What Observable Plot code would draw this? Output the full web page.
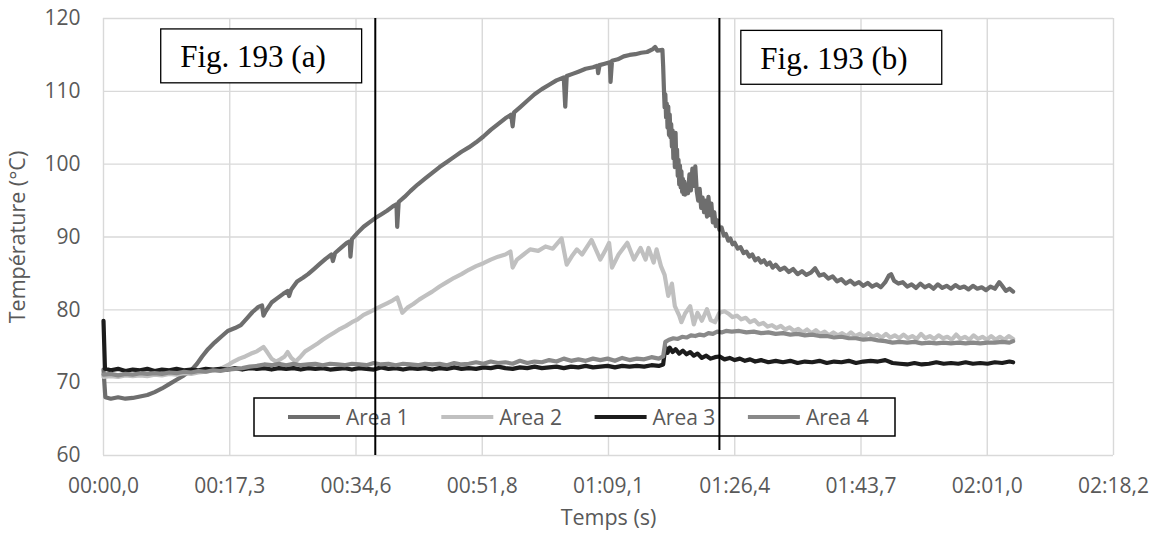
<!DOCTYPE html>
<html>
<head>
<meta charset="utf-8">
<script src="https://cdn.jsdelivr.net/npm/d3@7"></script>
<script src="https://cdn.jsdelivr.net/npm/@observablehq/plot@0.6"></script>
<style>
  html, body { margin: 0; padding: 0; background: white; }
</style>
</head>
<body>
<div id="chart"></div>
<script>
// ---- Data ----
const seriesNames = ["Area 1", "Area 2", "Area 3", "Area 4"];

const xTicks = [0, 17.28, 34.56, 51.84, 69.12, 86.4, 103.68, 120.96, 138.24];
const xTickLabels = ["00:00,0", "00:17,3", "00:34,6", "00:51,8", "01:09,1", "01:26,4", "01:43,7", "02:01,0", "02:18,2"];
const yTicks = [60, 70, 80, 90, 100, 110, 120];

const area1 = [[0,71.8],[0.25,68.0],[1,67.8],[2,68.0],[3,67.8],[4,67.9],[5,68.1],[6,68.3],[7,68.7],[8,69.2],[9,69.8],[10,70.4],[11,71.0],[12,71.7],[12.8,72.6],[13.5,73.6],[14.3,74.6],[15.2,75.5],[16.1,76.3],[17.0,77.1],[18.0,77.5],[18.8,77.9],[19.6,78.8],[20.4,79.7],[21.2,80.4],[21.7,80.6],[21.9,79.2],[22.2,79.8],[23.0,81.0],[23.8,81.6],[24.6,82.2],[25.2,82.6],[25.4,81.9],[25.7,82.8],[26.5,83.9],[27.3,84.4],[28.0,84.9],[28.8,85.6],[29.6,86.3],[30.4,87.0],[31.2,87.6],[31.4,86.7],[31.7,87.8],[32.5,88.5],[33.3,89.2],[33.7,89.4],[33.8,87.3],[34.0,89.7],[34.8,90.6],[35.6,91.4],[36.4,92.0],[37.2,92.6],[38.0,93.1],[38.8,93.6],[39.6,94.2],[40.1,94.5],[40.2,91.4],[40.4,94.8],[41.2,95.5],[42.0,96.3],[43.0,97.2],[44.0,98.0],[45.0,98.8],[46.0,99.6],[47.0,100.3],[48.0,101.0],[49.0,101.7],[50.0,102.3],[51.0,103.0],[52.0,103.8],[53.0,104.7],[54.0,105.5],[55.0,106.3],[55.8,106.8],[56.0,105.2],[56.2,107.1],[57.0,107.8],[58.0,108.7],[59.0,109.6],[60.0,110.3],[61.0,110.9],[62.0,111.5],[63.0,111.9],[63.2,107.9],[63.4,112.1],[64.2,112.4],[65.0,112.7],[66.0,113.1],[67.0,113.3],[67.6,113.5],[67.7,112.5],[67.9,113.6],[68.6,113.8],[69.3,114.0],[69.4,111.3],[69.6,114.2],[70.4,114.4],[71.2,114.8],[72.0,115.0],[72.8,115.1],[73.6,115.3],[74.4,115.4],[75.2,115.8],[75.5,116.1],[75.8,115.6],[76.5,115.7],[76.6,113.5],[76.7,110.5],[76.8,107.8],[76.9,109.6],[77.0,106.4],[77.1,108.3],[77.2,105.0],[77.3,107.9],[77.4,104.0],[77.5,106.8],[77.6,103.7],[77.7,105.5],[77.8,102.4],[77.9,104.6],[78.0,100.8],[78.1,103.9],[78.2,99.6],[78.3,104.3],[78.4,100.2],[78.5,102.0],[78.6,98.4],[78.7,100.6],[78.8,97.2],[78.9,99.8],[79.0,96.8],[79.1,99.0],[79.2,96.2],[79.3,98.0],[79.4,95.9],[79.5,97.6],[79.6,95.8],[79.8,97.2],[80.0,96.0],[80.2,98.6],[80.4,96.4],[80.6,99.4],[80.8,97.0],[81.0,99.7],[81.2,96.3],[81.4,95.0],[81.6,96.6],[81.8,94.0],[82.0,95.4],[82.2,93.4],[82.4,95.0],[82.6,92.8],[82.8,95.5],[83.0,93.0],[83.2,94.6],[83.4,92.0],[83.6,93.4],[83.8,91.5],[84.0,92.3],[84.3,91.0],[84.6,91.3],[84.9,90.2],[85.2,90.4],[85.5,89.5],[85.8,89.8],[86.1,89.0],[86.4,89.2],[86.8,88.4],[87.2,88.6],[87.6,87.8],[88.0,88.0],[88.4,87.3],[88.8,87.6],[89.2,86.8],[89.6,87.1],[90.0,86.5],[90.4,86.8],[90.8,86.2],[91.2,86.5],[91.6,85.8],[92.0,86.2],[92.6,85.5],[93.2,85.8],[93.8,85.2],[94.4,85.6],[95.0,84.9],[95.6,85.3],[96.2,84.8],[96.8,85.1],[97.4,85.7],[98.0,84.7],[98.6,84.9],[99.2,84.3],[99.8,84.6],[100.4,83.9],[101.0,84.2],[101.6,83.6],[102.2,84.0],[102.8,83.5],[103.4,83.8],[104.0,83.3],[104.6,83.7],[105.2,83.2],[105.8,83.5],[106.4,83.1],[107.0,83.8],[107.5,84.7],[107.8,84.9],[108.2,84.0],[108.8,83.6],[109.4,83.8],[110.0,83.2],[110.6,83.5],[111.2,83.0],[111.8,83.6],[112.4,83.1],[113.0,83.4],[113.6,82.9],[114.2,83.5],[114.8,83.0],[115.4,83.3],[116.0,82.9],[116.6,83.4],[117.2,83.0],[117.8,83.2],[118.4,82.8],[119.0,83.3],[119.6,82.9],[120.2,83.1],[120.8,82.7],[121.4,83.2],[122.0,82.9],[122.6,83.8],[123.0,83.3],[123.5,82.6],[124.0,82.9],[124.5,82.5]];

const area2 = [[0,70.8],[1,70.9],[2,70.8],[3,71.0],[4,70.9],[5,71.0],[6,70.9],[7,71.1],[8,71.0],[9,71.2],[10,71.1],[11,71.3],[12,71.2],[13,71.4],[14,71.5],[15,71.7],[16,71.9],[17,72.4],[17.8,72.9],[18.6,73.3],[19.4,73.6],[20.2,74.0],[21,74.3],[21.9,74.9],[22.4,74.2],[23.0,73.3],[23.6,72.9],[24.2,73.2],[24.8,73.6],[25.2,74.2],[25.7,73.4],[26.3,72.9],[27.0,73.6],[27.6,74.3],[28.4,74.8],[29.2,75.3],[30.0,75.9],[30.8,76.4],[31.6,76.9],[32.4,77.4],[33.2,77.8],[34.0,78.3],[34.8,78.7],[35.6,79.3],[36.4,79.7],[37.2,80.1],[38.0,80.5],[38.8,80.9],[39.6,81.3],[40.2,81.7],[40.9,79.6],[41.6,80.3],[42.4,80.8],[43.2,81.4],[44.0,81.9],[45.0,82.5],[46.0,83.2],[47.0,83.8],[48.0,84.4],[49.0,84.9],[50.0,85.5],[51.0,86.0],[52.0,86.4],[53.0,86.9],[54.0,87.3],[55.0,87.6],[55.7,88.0],[56.0,85.8],[56.6,86.9],[57.5,87.6],[58.4,88.3],[59.5,88.1],[60.5,88.7],[61.5,88.4],[62.7,89.8],[63.4,86.2],[64.2,87.5],[64.8,88.3],[65.5,87.6],[66.8,89.6],[68.0,86.9],[68.6,88.0],[69.2,89.2],[69.6,85.8],[70.5,87.6],[71.7,89.2],[72.6,86.9],[73.5,88.5],[74.2,86.9],[74.6,88.5],[75.3,86.5],[75.7,88.3],[76.3,86.0],[76.8,84.8],[77.3,81.9],[77.8,83.6],[78.2,80.5],[78.8,79.2],[79.1,78.3],[79.6,79.5],[80.3,80.5],[80.8,78.0],[81.3,79.6],[81.9,78.5],[82.6,80.1],[83.1,78.6],[83.7,78.3],[84.3,79.6],[85.0,79.8],[85.5,79.5],[86.1,79.0],[86.7,79.2],[87.3,78.7],[87.9,78.9],[88.5,78.3],[89.1,78.6],[89.7,78.0],[90.3,78.2],[90.9,77.7],[91.5,77.9],[92.1,77.5],[92.7,77.8],[93.3,77.3],[93.9,77.6],[94.5,77.1],[95.1,77.4],[95.7,76.9],[96.3,77.3],[96.9,76.8],[97.5,77.2],[98.1,76.7],[98.7,77.0],[99.3,76.5],[99.9,76.9],[100.5,76.5],[101.1,76.8],[101.7,76.4],[102.3,76.9],[102.9,76.4],[103.5,76.7],[104.1,76.3],[104.7,76.8],[105.3,76.3],[105.9,76.6],[106.5,76.2],[107.1,76.7],[107.7,76.2],[108.3,76.5],[108.9,76.1],[109.5,76.6],[110.1,76.1],[110.7,76.4],[111.3,76.0],[111.9,76.7],[112.5,76.1],[113.1,76.4],[113.7,76.0],[114.3,76.5],[114.9,76.1],[115.5,76.3],[116.1,75.9],[116.7,76.6],[117.3,76.0],[117.9,76.3],[118.5,75.9],[119.1,76.5],[119.7,76.0],[120.3,76.3],[120.9,75.9],[121.5,76.4],[122.1,75.9],[122.7,76.3],[123.3,75.9],[123.9,76.4],[124.5,76.0]];

const area3 = [[0,78.5],[0.2,71.9],[1,71.7],[2,71.9],[3,71.6],[4,71.8],[5,71.7],[6,71.9],[7,71.6],[8,71.8],[9,71.7],[10,71.9],[11,71.7],[12,71.8],[13,71.7],[14,71.9],[15,71.8],[16,71.9],[17,71.8],[18,72.0],[19,71.8],[20,72.0],[21,71.9],[22,72.0],[23,71.8],[24,72.0],[25,71.9],[26,72.0],[27,71.8],[28,72.0],[29,71.9],[30,72.0],[31,71.8],[32,71.9],[33,72.0],[34,71.8],[35,72.0],[36,71.9],[37,71.8],[38,72.1],[39,71.9],[40,72.0],[41,71.8],[42,72.0],[43,71.9],[44,72.0],[45,71.8],[46,72.0],[47,71.9],[48,72.1],[49,71.9],[50,72.0],[51,71.9],[52,72.1],[53,72.0],[54,72.2],[55,72.0],[56,71.9],[57,72.1],[58,72.0],[59,72.2],[60,72.0],[61,72.1],[62,72.2],[63,72.0],[64,72.2],[65,72.1],[66,72.3],[67,72.1],[68,72.2],[69,72.3],[70,72.1],[71,72.3],[72,72.2],[73,72.3],[74,72.2],[75,72.4],[76,72.3],[76.6,72.5],[76.9,74.9],[77.2,74.1],[77.5,74.8],[77.9,74.2],[78.3,74.6],[78.8,74.0],[79.3,74.4],[79.8,73.9],[80.3,74.2],[80.8,73.7],[81.3,74.0],[81.9,73.4],[82.5,73.7],[83.1,73.3],[83.7,73.5],[84.3,73.6],[85.0,73.2],[85.7,73.4],[86.4,73.1],[87.1,73.3],[87.8,73.0],[88.5,73.2],[89.2,72.9],[90,73.1],[91,72.8],[92,73.0],[93,72.8],[94,73.0],[95,72.7],[96,72.9],[97,72.8],[98,73.0],[99,72.7],[100,72.9],[101,72.8],[102,73.0],[103,72.7],[104,72.9],[105,73.0],[106,72.9],[107,73.1],[108,72.7],[109,72.6],[110,72.5],[111,72.7],[112,72.5],[113,72.6],[114,72.8],[115,72.6],[116,72.7],[117,72.6],[118,72.8],[119,72.6],[120,72.7],[121,72.6],[122,72.8],[123,72.7],[124,72.9],[124.5,72.8]];

const area4 = [[0,71.1],[1,71.2],[2,71.0],[3,71.2],[4,71.1],[5,71.3],[6,71.2],[7,71.3],[8,71.2],[9,71.4],[10,71.3],[11,71.5],[12,71.4],[13,71.6],[14,71.5],[15,71.7],[16,71.6],[17,71.8],[18,71.9],[19,72.0],[20,72.2],[21,72.3],[22,72.5],[23,72.4],[24,72.6],[25,72.4],[26,72.6],[27,72.4],[28,72.5],[29,72.6],[30,72.4],[31,72.6],[32,72.5],[33,72.4],[34,72.6],[35,72.5],[36,72.4],[37,72.7],[38,72.5],[39,72.6],[40,72.4],[41,72.6],[42,72.5],[43,72.4],[44,72.6],[45,72.5],[46,72.6],[47,72.4],[48,72.7],[49,72.5],[50,72.6],[51,72.8],[52,72.6],[53,72.9],[54,72.7],[55,72.8],[56,72.6],[57,73.0],[58,72.7],[59,72.9],[60,72.8],[61,73.1],[62,72.9],[63,73.3],[64,73.0],[65,73.2],[66,73.0],[67,73.3],[68,73.1],[69,73.3],[70,73.0],[71,73.4],[72,73.1],[73,73.3],[74,73.2],[75,73.5],[76,73.3],[76.6,73.6],[76.9,75.6],[77.4,75.9],[78,76.1],[78.6,76.0],[79.2,76.3],[79.8,76.2],[80.4,76.5],[81,76.4],[81.6,76.6],[82.2,76.5],[82.8,76.8],[83.4,76.7],[84,77.0],[84.6,76.9],[85.2,77.1],[86,77.0],[87,77.1],[88,76.9],[89,77.0],[90,76.8],[91,76.9],[92,76.7],[93,76.8],[94,76.6],[95,76.7],[96,76.5],[97,76.6],[98,76.4],[99,76.4],[100,76.2],[101,76.3],[102,76.1],[103,76.1],[104,75.9],[105,76.0],[106,75.8],[107,75.7],[108,75.5],[109,75.6],[110,75.5],[111,75.6],[112,75.4],[113,75.5],[114,75.4],[115,75.5],[116,75.4],[117,75.5],[118,75.4],[119,75.5],[120,75.4],[121,75.5],[122,75.5],[123,75.6],[124,75.5],[124.5,75.7]];

const seriesData = [area1, area2, area3, area4];

// Annotation boxes (data units) and vertical markers
const figLabels = ["Fig. 193 (a)", "Fig. 193 (b)"];
const figT1 = [7.9, 87.3];
const figT2 = [35.4, 114.8];
const figV1 = [118.5, 118.3];
const figV2 = [111.1, 110.9];
const markerTimes = [37.2, 84.3];
const markerBottoms = [60, 60.7];

// ---- Styles ----
const seriesColors = ["#6e6e6e", "#c0c0c0", "#1c1c1c", "#898989"];
const textColor = "#595959";
const gridColor = "#d9d9d9";
const uiFont = "'Open Sans', Lato, sans-serif";

// ---- Build tables ----
const figNotes = figLabels.map((label, i) => ({label, t1: figT1[i], t2: figT2[i], v1: figV1[i], v2: figV2[i], vm: (figV1[i] + figV2[i]) / 2}));
const markers = markerTimes.map((t, i) => ({t, bottom: markerBottoms[i]}));

const legendMark = (index, scales, values, dims) => {
  const g = d3.create("svg:g");
  const x0 = dims.marginLeft + 151;
  const y0 = dims.height - dims.marginBottom - 57;
  const w = 641, h = 38;
  g.append("rect").attr("x", x0).attr("y", y0).attr("width", w).attr("height", h)
    .attr("fill", "white").attr("stroke", "black").attr("stroke-width", 1.5);
  seriesNames.forEach((name, i) => {
    const sx = x0 + 34 + i * 153.3;
    const cy = y0 + h / 2;
    g.append("line").attr("x1", sx).attr("x2", sx + 52).attr("y1", cy).attr("y2", cy)
      .attr("stroke", seriesColors[i]).attr("stroke-width", 4);
    g.append("text").attr("x", sx + 58).attr("y", cy).attr("dy", "0.36em")
      .attr("text-anchor", "start")
      .attr("fill", textColor).attr("font-size", 21).text(name);
  });
  return g.node();
};

const chart = Plot.plot({
  width: 1156,
  height: 539,
  marginLeft: 103,
  marginRight: 43,
  marginTop: 18,
  marginBottom: 84,
  style: {fontFamily: uiFont, fontSize: "21px", color: textColor, background: "white"},
  x: {domain: [0, 138.24], ticks: xTicks, tickFormat: d => xTickLabels[xTicks.indexOf(d)], tickSize: 0, tickPadding: 23, label: null},
  y: {domain: [60, 120], ticks: yTicks, tickSize: 0, tickPadding: 23, label: null},
  marks: [
    Plot.ruleX(xTicks, {stroke: gridColor, strokeWidth: 1.4}),
    Plot.ruleY(yTicks, {stroke: gridColor, strokeWidth: 1.4}),
    Plot.rect(figNotes, {x1: "t1", x2: "t2", y1: "v1", y2: "v2", fill: "white", stroke: "black", strokeWidth: 1.3}),
    Plot.text(figNotes, {x: "t1", y: "vm", text: "label", textAnchor: "start", dx: 19, dy: 1, fontFamily: "'Liberation Serif', 'Times New Roman', serif", fontSize: 31, fill: "black"}),
    ...seriesData.map((data, i) => Plot.line(data, {x: d => d[0], y: d => d[1], stroke: seriesColors[i], strokeWidth: 4.2, strokeLinejoin: "round", strokeLinecap: "round"})),
    legendMark,
    Plot.ruleX(markers, {x: "t", y1: 120, y2: "bottom", stroke: "black", strokeWidth: 2}),
    Plot.text(["Température (°C)"], {frameAnchor: "left", textAnchor: "middle", dx: -85, rotate: -90, fontSize: 21.5, fill: textColor}),
    Plot.text(["Temps (s)"], {frameAnchor: "bottom", textAnchor: "middle", dy: 69, fontSize: 21.5, fill: textColor})
  ]
});
document.getElementById("chart").appendChild(chart);
</script>
</body>
</html>
